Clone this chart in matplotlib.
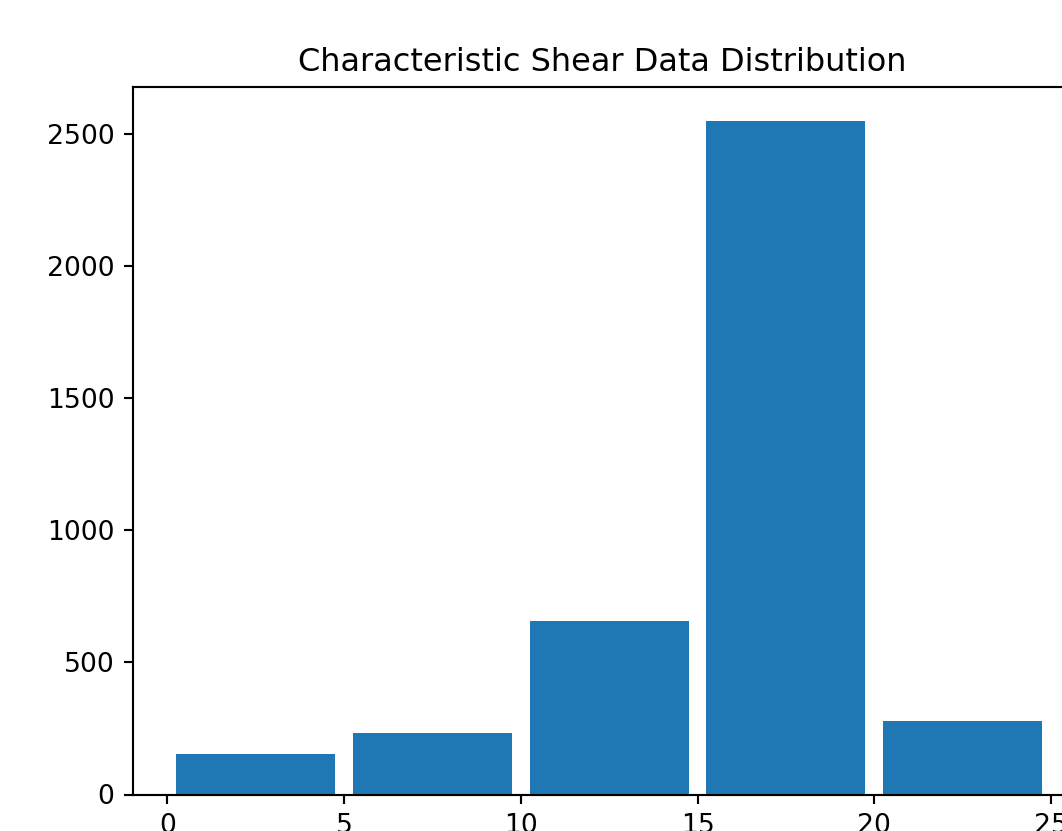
import matplotlib
matplotlib.use('Agg')
import matplotlib.pyplot as plt

# histogram bins and counts
bin_edges = [0, 5, 10, 15, 20, 25]
bin_lefts = [0, 5, 10, 15, 20]
counts = [155, 234, 655, 2550, 278]

fig = plt.figure(figsize=(1062/192, 831/192), dpi=192)
ax = fig.add_axes([133/1062, 1 - 794.5/831, (1085.5 - 133)/1062, (794.5 - 87)/831])

ax.hist(bin_lefts, bins=bin_edges, weights=counts, rwidth=0.9, color='#1f77b4')
ax.set_title('Characteristic Shear Data Distribution', x=0.4925)

fig.savefig('out.png', dpi=192)
